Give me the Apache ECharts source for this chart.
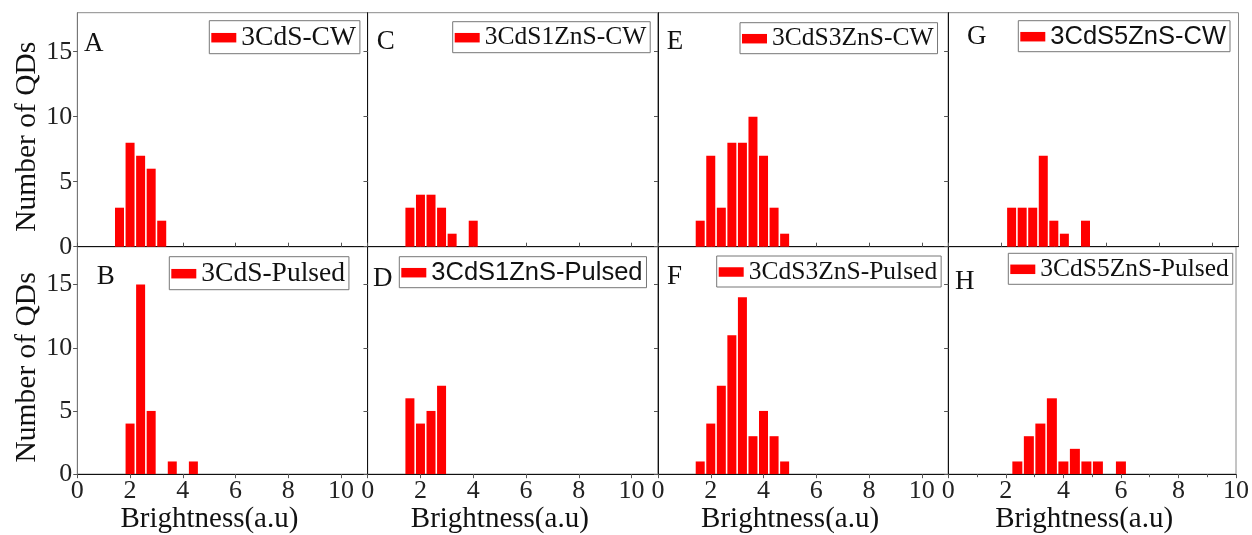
<!DOCTYPE html>
<html>
<head>
<meta charset="utf-8">
<script src="https://cdn.jsdelivr.net/npm/echarts@6/dist/echarts.min.js"></script>
<style>html,body{margin:0;padding:0;background:#fff}#c{width:1252px;height:535px}</style>
</head>
<body>
<div id="c"></div>
<script>
// ---- data (bin centres in brightness a.u., counts of QDs) ----
const A_x = [1.6, 2.0, 2.4, 2.8, 3.2];
const A_y = [3, 8, 7, 6, 2];
const B_x = [2.0, 2.4, 2.8, 3.6, 4.4];
const B_y = [4, 15, 5, 1, 1];
const C_x = [1.6, 2.0, 2.4, 2.8, 3.2, 4.0];
const C_y = [3, 4, 4, 3, 1, 2];
const D_x = [1.6, 2.0, 2.4, 2.8];
const D_y = [6, 4, 5, 7];
const E_x = [1.6, 2.0, 2.4, 2.8, 3.2, 3.6, 4.0, 4.4, 4.8];
const E_y = [2, 7, 3, 8, 8, 10, 7, 3, 1];
const F_x = [1.6, 2.0, 2.4, 2.8, 3.2, 3.6, 4.0, 4.4, 4.8];
const F_y = [1, 4, 7, 11, 14, 3, 5, 3, 1];
const G_x = [2.4, 2.8, 3.2, 3.6, 4.0, 4.4, 5.2];
const G_y = [3, 3, 3, 7, 2, 1, 2];
const H_x = [2.4, 2.8, 3.2, 3.6, 4.0, 4.4, 4.8, 5.2, 6.0];
const H_y = [1, 3, 4, 6, 1, 2, 1, 1, 1];

const xTicks = [0, 2, 4, 6, 8, 10];
const yTicks = [0, 5, 10, 15];
const seriesNames = ['3CdS-CW', '3CdS-Pulsed', '3CdS1ZnS-CW', '3CdS1ZnS-Pulsed',
                     '3CdS3ZnS-CW', '3CdS3ZnS-Pulsed', '3CdS5ZnS-CW', '3CdS5ZnS-Pulsed'];
const letters = ['A', 'B', 'C', 'D', 'E', 'F', 'G', 'H'];
const xName = 'Brightness(a.u)';
const yName = 'Number of QDs';

// ---- layout / style ----
const SERIF = "'Liberation Serif','Times New Roman',serif";
const SANS = "'Liberation Sans',Arial,sans-serif";
const colLeft = [77.3, 367.7, 658, 948.3];
const rowTop = [12.7, 246.7];
const GW = 290.2, GH = 234;

const panels = [
  {x: A_x, y: A_y, row: 0, col: 0, xmax: 11, lf: SERIF, ls: 27.5, lg: [209.3, 20.7], lt: [84, 30]},
  {x: B_x, y: B_y, row: 1, col: 0, xmax: 11, lf: SERIF, ls: 27.5, lg: [169.3, 256.7], lt: [96.7, 263]},
  {x: C_x, y: C_y, row: 0, col: 1, xmax: 11, lf: SERIF, ls: 25.5, lg: [452.7, 21.7], lt: [376.7, 28]},
  {x: D_x, y: D_y, row: 1, col: 1, xmax: 11, lf: SANS,  ls: 25.5, lg: [399.3, 256.7], lt: [373, 265]},
  {x: E_x, y: E_y, row: 0, col: 2, xmax: 11, lf: SERIF, ls: 25.5, lg: [740, 22.7], lt: [666.7, 28]},
  {x: F_x, y: F_y, row: 1, col: 2, xmax: 11, lf: SERIF, ls: 25.5, lg: [716.7, 256], lt: [667, 263]},
  {x: G_x, y: G_y, row: 0, col: 3, xmax: 11, lf: SANS,  ls: 25.5, lg: [1018.3, 20.7], lt: [967, 23]},
  {x: H_x, y: H_y, row: 1, col: 3, xmax: 10, lf: SERIF, ls: 25.5, lg: [1008.3, 253.3], lt: [955, 268]}
];

const grids = [], xAxes = [], yAxes = [], series = [], legends = [], graphics = [];
const labelStyle = {fontFamily: SERIF, fontSize: 26, color: '#222'};

panels.forEach((p, i) => {
  grids.push({left: colLeft[p.col], top: rowTop[p.row], width: GW, height: GH,
    show: true, borderColor: '#8a8a8a', borderWidth: 1, backgroundColor: 'transparent', containLabel: false});
  const isBottom = p.row === 1, isLeft = p.col === 0, minor = p.xmax === 10;
  const tickCfg = minor ? {show: true, inside: !isBottom, length: 4, lineStyle: {color: '#555'}}
                        : {show: true, inside: !isBottom, length: 4, customValues: xTicks, lineStyle: {color: '#555'}};
  // primary bottom x axis
  xAxes.push({
    type: 'value', gridIndex: i, position: 'bottom', min: 0, max: p.xmax,
    interval: 2, splitLine: {show: false},
    axisLine: {show: true, onZero: false, lineStyle: {color: '#111', width: 1}},
    axisTick: tickCfg,
    minorTick: {show: minor, splitNumber: 2, length: 3, lineStyle: {color: '#555'}},
    axisLabel: minor ? Object.assign({show: isBottom, margin: 4}, labelStyle)
                     : Object.assign({show: isBottom, margin: 4, customValues: xTicks}, labelStyle),
    name: isBottom ? xName : '', nameLocation: 'middle', nameGap: 22,
    nameTextStyle: {fontFamily: SERIF, fontSize: 29, color: '#111', padding: minor ? [0, 16, 0, 0] : [0, 26, 0, 0]}
  });
  // secondary top x axis (ticks only)
  xAxes.push({
    type: 'value', gridIndex: i, position: 'top', min: 0, max: p.xmax, interval: 2,
    splitLine: {show: false}, axisLine: {show: false},
    axisTick: minor ? {show: isBottom, inside: true, length: 4, lineStyle: {color: '#555'}}
                    : {show: isBottom, inside: true, length: 4, customValues: xTicks, lineStyle: {color: '#555'}},
    minorTick: {show: minor, splitNumber: 2, length: 3, lineStyle: {color: '#555'}},
    axisLabel: {show: false}
  });
  // primary left y axis
  yAxes.push({
    type: 'value', gridIndex: i, position: 'left', min: 0, max: 18, interval: 5,
    splitLine: {show: false},
    axisLine: {show: true, onZero: false, lineStyle: {color: isLeft ? '#777' : '#111', width: 1}},
    axisTick: {show: true, inside: false, length: 4, customValues: yTicks, lineStyle: {color: '#555'}},
    axisLabel: Object.assign({show: isLeft, margin: 5, customValues: yTicks}, labelStyle),
    name: isLeft ? yName : '', nameLocation: 'middle', nameGap: 33,
    nameTextStyle: {fontFamily: SERIF, fontSize: 29.5, color: '#111', padding: [0, 14, 0, 0]}
  });
  // secondary right y axis (ticks only)
  yAxes.push({
    type: 'value', gridIndex: i, position: 'right', min: 0, max: 18, interval: 5,
    splitLine: {show: false}, axisLine: {show: false},
    axisTick: {show: true, inside: true, length: 4, customValues: [5, 10, 15], lineStyle: {color: '#555'}},
    axisLabel: {show: false}
  });
  const name = seriesNames[i];
  series.push({
    type: 'bar', name: name, xAxisIndex: 2 * i, yAxisIndex: 2 * i,
    barWidth: minor ? 10 : 9,
    itemStyle: {color: '#ff0000'},
    data: p.x.map((v, k) => [v, p.y[k]])
  });
  legends.push({
    data: [name], left: p.lg[0], top: p.lg[1], orient: 'horizontal',
    itemWidth: 25, itemHeight: 9.5, padding: [3, 4, 2, 2],
    borderColor: '#777', borderWidth: 1, backgroundColor: '#fff',
    textStyle: {fontFamily: p.lf, fontSize: p.ls, color: '#111'},
    selectedMode: false, icon: 'rect'
  });
  graphics.push({type: 'text', left: p.lt[0], top: p.lt[1],
    style: {text: letters[i], font: '27px ' + SERIF, fill: '#111'}});
});

const chart = echarts.init(document.getElementById('c'), null, {renderer: 'canvas'});
chart.setOption({
  animation: false,
  backgroundColor: '#fff',
  grid: grids, xAxis: xAxes, yAxis: yAxes, series: series,
  legend: legends, graphic: graphics
});
</script>
</body>
</html>
